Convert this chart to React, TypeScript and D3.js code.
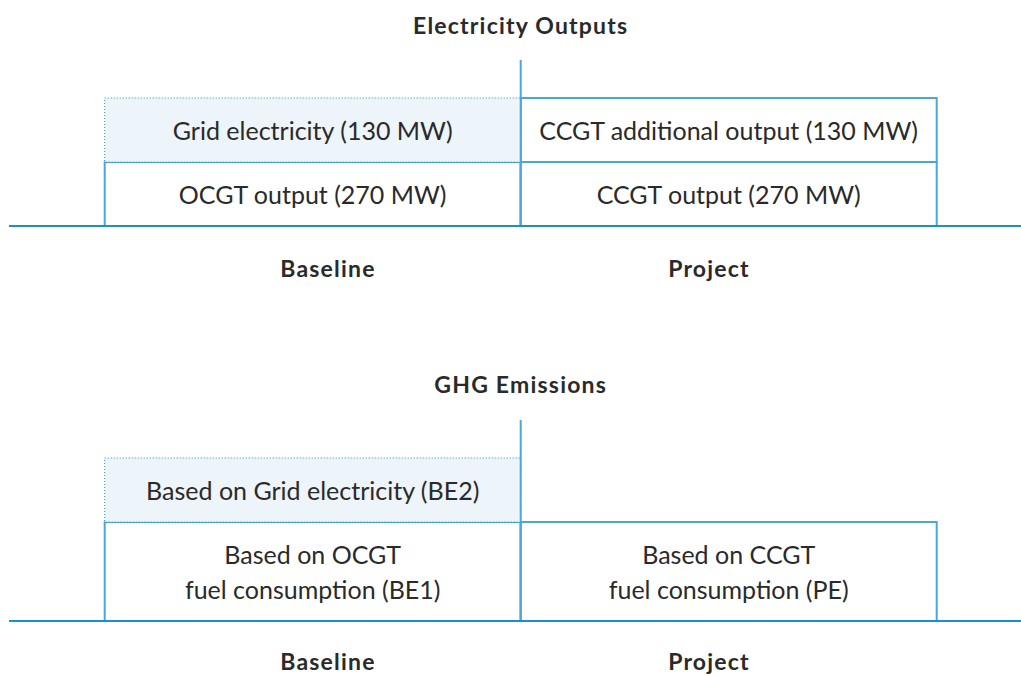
import React from "react";
import * as d3 from "d3";

const W = 1021;
const H = 675;

const scenarios = ["Baseline", "Project"];
const panelTitles = ["Electricity Outputs", "GHG Emissions"];

// Blocks: scenario, stack level (0 = bottom), text lines, kind
const electricityBlocks = [
  { scenario: "Baseline", level: 0, lines: ["OCGT output (270 MW)"], kind: "solid" },
  { scenario: "Baseline", level: 1, lines: ["Grid electricity (130 MW)"], kind: "dotted" },
  { scenario: "Project", level: 0, lines: ["CCGT output (270 MW)"], kind: "solid" },
  { scenario: "Project", level: 1, lines: ["CCGT additional output (130 MW)"], kind: "solid" },
];
const ghgBlocks = [
  { scenario: "Baseline", level: 0, lines: ["Based on OCGT", "fuel consumption (BE1)"], kind: "solid" },
  { scenario: "Baseline", level: 1, lines: ["Based on Grid electricity (BE2)"], kind: "dotted" },
  { scenario: "Project", level: 0, lines: ["Based on CCGT", "fuel consumption (PE)"], kind: "solid" },
];
const panelBlocks = [electricityBlocks, ghgBlocks];

// layout (pixel) settings per panel
const panelLayout = [
  { titleY: 25, dividerTop: 60, baseY: 226, rowEdges: [226, 162, 98], labelY: 268 },
  { titleY: 384, dividerTop: 420, baseY: 621, rowEdges: [621, 522, 458], labelY: 661 },
];

const BLUE = "#1a8fd0";
const BLUE_LIGHT = "#4aa8d8";
const FILL = "#edf4fa";
const TEXT = "#2a2a2a";
const FONT = "Lato, 'Open Sans', sans-serif";

const x = d3.scaleBand<string>().domain(scenarios).range([104.7, 936.7]).paddingInner(0).paddingOuter(0);
const labelX = d3.scalePoint<string>().domain(scenarios).range([328, 709]);

export default function App() {
  return (
    <svg
      width={W}
      height={H}
      style={{ position: "absolute", left: 0, top: 0, background: "#fff" }}
      fontFamily={FONT}
    >
      {panelLayout.map((pl, pi) => {
        const blocks = panelBlocks[pi];
        const y = d3.scaleLinear().domain([0, 1, 2]).range(pl.rowEdges);
        const midX = x("Project")!;
        const ordered = [...blocks].sort((a, b) => (a.kind === "dotted" ? 1 : 0) - (b.kind === "dotted" ? 1 : 0));
        return (
          <g key={pi}>
            <text
              x={midX}
              y={pl.titleY}
              textAnchor="middle"
              dominantBaseline="central"
              fontSize={23}
              fontWeight={700}
              letterSpacing={1.2}
              fill={TEXT}
            >
              {panelTitles[pi]}
            </text>
            {ordered.map((b, bi) => {
              const x0 = x(b.scenario)!;
              const w = x.bandwidth();
              const yTop = y(b.level + 1);
              const yBot = y(b.level);
              const cy = (yTop + yBot) / 2;
              const lh = 35;
              const n = b.lines.length;
              return (
                <g key={bi}>
                  {b.kind === "dotted" ? (
                    <rect
                      x={x0}
                      y={yTop}
                      width={w}
                      height={yBot - yTop}
                      fill={FILL}
                      stroke={BLUE}
                      strokeWidth={1}
                      strokeDasharray="1,2"
                    />
                  ) : (
                    <rect
                      x={x0}
                      y={yTop}
                      width={w}
                      height={yBot - yTop}
                      fill="#fff"
                      stroke={BLUE_LIGHT}
                      strokeWidth={2}
                    />
                  )}
                  {b.lines.map((ln, li) => (
                    <text
                      key={li}
                      x={x0 + w / 2}
                      y={cy + (li - (n - 1) / 2) * lh}
                      textAnchor="middle"
                      dominantBaseline="central"
                      fontSize={25}
                      fill={TEXT}
                    >
                      {ln}
                    </text>
                  ))}
                </g>
              );
            })}
            <line x1={midX} x2={midX} y1={pl.dividerTop} y2={pl.baseY} stroke={BLUE_LIGHT} strokeWidth={2} />
            <line x1={9} x2={W} y1={pl.baseY} y2={pl.baseY} stroke={BLUE} strokeWidth={2} />
            {scenarios.map((s) => (
              <text
                key={s}
                x={labelX(s)}
                y={pl.labelY}
                textAnchor="middle"
                dominantBaseline="central"
                fontSize={23}
                fontWeight={700}
                letterSpacing={1.2}
                fill={TEXT}
              >
                {s}
              </text>
            ))}
          </g>
        );
      })}
    </svg>
  );
}
